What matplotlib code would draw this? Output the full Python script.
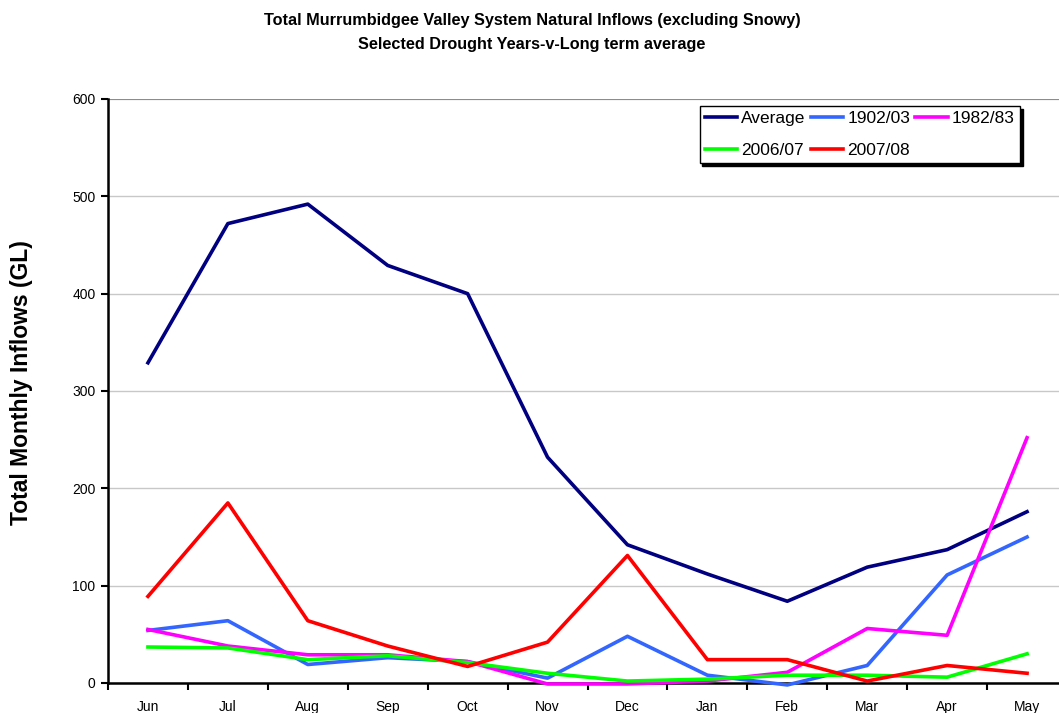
import matplotlib.pyplot as plt
from matplotlib.ticker import MultipleLocator, FixedLocator

plt.rcParams['font.family'] = ['Liberation Sans', 'DejaVu Sans']

months = ["Jun", "Jul", "Aug", "Sep", "Oct", "Nov", "Dec", "Jan", "Feb", "Mar", "Apr", "May"]
average = [329, 472, 492, 429, 400, 232, 142, 112, 84, 119, 137, 176]
y1902 = [54, 64, 19, 26, 22, 5, 48, 8, -2, 18, 111, 150]
y1982 = [55, 38, 29, 29, 22, -1, -1, 2, 11, 56, 49, 252]
y2006 = [37, 36, 24, 28, 21, 10, 2, 4, 8, 8, 6, 30]
y2007 = [89, 185, 64, 38, 17, 42, 131, 24, 24, 2, 18, 10]

series = [
    ("Average", average, "#000080"),
    ("1902/03", y1902, "#3366FF"),
    ("1982/83", y1982, "#FF00FF"),
    ("2006/07", y2006, "#00FF00"),
    ("2007/08", y2007, "#FF0000"),
]

W, H = 1059, 713
fig = plt.figure(figsize=(W / 100, H / 100), dpi=100)
ax = fig.add_axes([108 / W, (H - 683) / H, (1067 - 108) / W, (683 - 99) / H])

x = list(range(len(months)))
lines = []
for name, vals, col in series:
    ln, = ax.plot(x, vals, color=col, lw=2.6, label=name, clip_on=False, zorder=3)
    lines.append(ln)

ax.set_xlim(-0.5, 11.5)
ax.set_ylim(0, 600)
ax.yaxis.set_major_locator(MultipleLocator(100))
ax.set_xticks(x)
ax.set_xticklabels(months)
ax.xaxis.set_minor_locator(FixedLocator([i - 0.5 for i in range(13)]))
ax.tick_params(axis="x", which="major", length=0, pad=12, labelsize=10)
ax.tick_params(axis="x", which="minor", length=5, width=1.5, direction="out")
ax.tick_params(axis="y", length=5, width=1.5, direction="out", labelsize=10, pad=4)

ax.grid(axis="y", color="#c8c8c8", lw=1)
ax.set_axisbelow(True)
ax.axhline(600, color="#808080", lw=1.2, zorder=1)
for s in ["top", "right"]:
    ax.spines[s].set_visible(False)
ax.spines["left"].set_linewidth(1.8)
ax.spines["bottom"].set_linewidth(1.8)

fig.text(22 / W, 1 - 383 / H, "Total Monthly Inflows (GL)", rotation=90,
         ha="center", va="center", fontsize=16.5, fontweight="bold")

fig.text(532 / W, 1 - 20 / H, "Total Murrumbidgee Valley System Natural Inflows (excluding Snowy)",
         ha="center", va="center", fontsize=11.7, fontweight="bold")
fig.text(532 / W, 1 - 44 / H, "Selected Drought Years-v-Long term average",
         ha="center", va="center", fontsize=11.7, fontweight="bold")

# row-wise legend order: matplotlib fills columns first
order = [0, 3, 1, 4, 2]
leg = ax.legend([lines[i] for i in order], [series[i][0] for i in order],
                ncol=3, loc="upper right", bbox_to_anchor=(1020 / W, 1 - 106 / H),
                bbox_transform=fig.transFigure, borderaxespad=0, fancybox=False,
                shadow={"color": "black", "alpha": 1},
                edgecolor="black", fontsize=12.5, handlelength=1.85, handletextpad=0.25, columnspacing=0.3,
                borderpad=0.3, labelspacing=0.95, framealpha=1)
leg.get_frame().set_linewidth(1)

fig.savefig("out.png", dpi=100)
